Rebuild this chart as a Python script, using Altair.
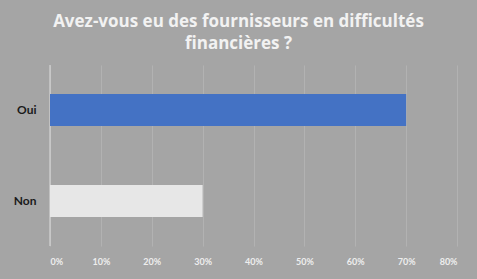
import altair as alt
import pandas as pd

categories = ["Oui", "Non"]
values = [0.70, 0.30]
colors = ["#4472c4", "#e7e7e7"]
x_ticks = [0, 0.1, 0.2, 0.3, 0.4, 0.5, 0.6, 0.7, 0.8]

df = pd.DataFrame({"rep": categories, "val": values})

FONT = "Lato"
TFONT = "Open Sans"

bars = alt.Chart(df).mark_bar().encode(
    y=alt.Y("rep:N", sort=categories, title=None,
            scale=alt.Scale(paddingInner=0.65, paddingOuter=0.32),
            axis=alt.Axis(domain=False, ticks=False, labelPadding=14,
                          labelFont=FONT, labelFontSize=12, labelFontWeight="bold",
                          labelColor="#1a1a1a")),
    x=alt.X("val:Q", title=None,
            scale=alt.Scale(domain=[0, 0.8], nice=False),
            axis=alt.Axis(format=".0%", values=x_ticks, domain=False, ticks=False,
                          labelPadding=11, labelFont=FONT, labelFontSize=9,
                          labelFontWeight="bold", labelColor="#eeeeee",
                          grid=True, gridColor="#b2b2b2", gridWidth=1)),
    color=alt.Color("rep:N", scale=alt.Scale(domain=categories, range=colors), legend=None),
)

zero = alt.Chart(pd.DataFrame({"z": [0]})).mark_rule(color="#dcdcdc", strokeWidth=1).encode(
    x="z:Q"
)

chart = alt.layer(zero, bars).properties(
    width=407,
    height=181,
    padding={"left": 50, "top": 65, "right": 20, "bottom": 33},
    autosize=alt.AutoSizeParams(type="none"),
    background="#a5a5a5",
    title=alt.TitleParams(
        text=["Avez-vous eu des fournisseurs en difficultés", "financières ?"],
        font=TFONT, fontSize=17, fontWeight="bold", color="#f2f2f2",
        anchor="middle", dx=-15, offset=12, lineHeight=22,
    ),
).configure_view(stroke=None)

chart.save("out.html", embed_options={"renderer": "svg", "actions": False})
